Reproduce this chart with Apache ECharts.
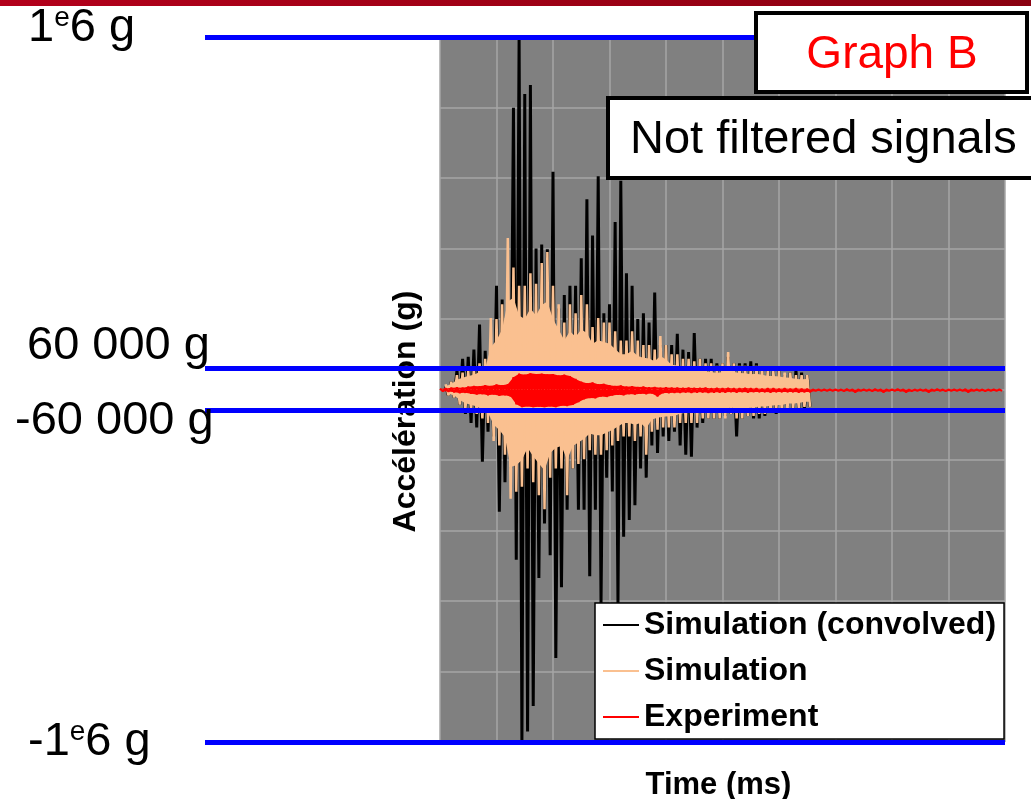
<!DOCTYPE html>
<html>
<head>
<meta charset="utf-8">
<style>
  html, body { margin: 0; padding: 0; background: #fff; }
  #chart { width: 1031px; height: 799px; }
</style>
<script src="https://cdn.jsdelivr.net/npm/echarts@6/dist/echarts.min.js"></script>
</head>
<body>
<div id="chart"></div>
<script>
const FONT = 'Liberation Sans, Arial, sans-serif'

// time axis (ms): 10 divisions, no tick labels on the original
const timeMax = 10
const step = 0.1
const simStart = 0.1   // first slot of the simulated signals
const expStart = 0     // first slot of the experiment

// acceleration in 1000 g, highest / lowest value inside each 0.1 ms slot
const convHigh = [
  9, 22, 54, 87, 93, 113, 184, 110, 113, 294,
  255, 230, 799, 1000, 838, 864, 400, 411, 398, 618,
  230, 268, 294, 294, 372, 540, 437, 605, 216, 242,
  475, 592, 330, 294, 200, 216, 190, 275, 126, 126,
  126, 158, 113, 106, 160, 87, 87, 87, 74, 74,
  93, 74, 74, 74, 80, 74, 54, 54, 54, 54,
  41, 48, 54, 48, 41
]
const convLow = [
  -17, -23, -43, -69, -95, -108, -205, -120, -133, -347,
  -263, -224, -483, -1000, -970, -898, -535, -380, -470, -762,
  -561, -341, -224, -341, -341, -530, -341, -606, -250, -289,
  -606, -418, -370, -328, -224, -250, -159, -180, -133, -146,
  -120, -159, -185, -191, -108, -95, -82, -82, -82, -75,
  -69, -133, -82, -75, -82, -82, -75, -62, -69, -56,
  -49, -56, -56, -56, -49
]
const simHigh = [
  15, 22, 41, 48, 54, 61, 74, 87, 203, 200,
  242, 430, 346, 294, 294, 330, 300, 359, 390, 294,
  242, 190, 242, 216, 268, 242, 177, 203, 190, 190,
  165, 139, 139, 165, 139, 126, 126, 113, 152, 126,
  100, 100, 87, 87, 80, 87, 74, 74, 67, 74,
  106, 74, 67, 67, 61, 67, 61, 54, 54, 54,
  48, 48, 41, 41, 41
]
const simLow = [
  -17, -23, -43, -56, -62, -69, -82, -95, -146, -159,
  -185, -310, -290, -276, -224, -263, -300, -340, -250, -224,
  -224, -300, -224, -211, -198, -172, -185, -185, -172, -159,
  -146, -133, -133, -146, -133, -185, -120, -114, -108, -108,
  -108, -95, -95, -95, -95, -82, -82, -82, -82, -82,
  -69, -82, -82, -75, -75, -69, -69, -66, -62, -62,
  -56, -56, -53, -49, -49
]
// level up to which the simulation trace looks solid in each slot
const simCoreHigh = [
  10, 15, 28, 33, 38, 42, 50, 60, 120, 140,
  170, 250, 260, 210, 200, 230, 210, 240, 250, 200,
  170, 140, 165, 150, 170, 160, 130, 140, 135, 130,
  115, 100, 100, 110, 95, 90, 88, 80, 95, 85,
  70, 68, 62, 60, 56, 58, 52, 50, 47, 50,
  60, 50, 47, 46, 43, 45, 42, 38, 38, 37,
  34, 33, 30, 29, 30
]
const simCoreLow = [
  -12, -16, -30, -39, -43, -48, -57, -66, -100, -115,
  -135, -220, -215, -200, -165, -190, -210, -230, -180, -165,
  -160, -200, -160, -150, -140, -125, -130, -130, -122, -115,
  -105, -95, -95, -100, -95, -110, -85, -80, -77, -76,
  -75, -68, -67, -66, -66, -58, -58, -57, -57, -57,
  -50, -56, -56, -52, -52, -48, -48, -46, -44, -44,
  -40, -40, -38, -35, -35
]
const expHigh = [
  2, 3, 5, 6, 5, 8, 10, 9, 12, 10,
  14, 12, 15, 35, 45, 42, 46, 44, 45, 43,
  44, 40, 42, 38, 30, 22, 18, 20, 15, 16,
  12, 10, 11, 8, 9, 7, 8, 6, 7, 5,
  6, 5, 5, 4, 5, 4, 4, 5, 3, 4,
  3, 4, 3, 3, 4, 3, 3, 2, 3, 3,
  2, 3, 2, 3, 2, 2, 0, 0, 0, 0,
  0, 0, 1, 0, 0, 0, 0, 1, 0, 0,
  0, 1, 0, 0, 0, 0, 0, 0, 1, 0,
  0, 0, 0, 1, 0, 0, 0, 0, 0, 0
]
const expLow = [
  -5, -6, -8, -10, -9, -12, -14, -13, -16, -14,
  -18, -16, -20, -42, -50, -48, -50, -49, -50, -48,
  -50, -46, -47, -44, -36, -28, -24, -25, -20, -21,
  -17, -15, -16, -13, -14, -12, -13, -11, -20, -10,
  -10, -9, -9, -8, -9, -8, -8, -9, -8, -8,
  -8, -7, -8, -7, -8, -7, -7, -7, -8, -7,
  -7, -7, -7, -8, -7, -7, -4, -4, -4, -4,
  -4, -5, -4, -8, -4, -4, -5, -4, -8, -4,
  -4, -4, -8, -5, -4, -4, -8, -4, -4, -5,
  -4, -4, -4, -8, -4, -4, -5, -4, -4, -4
]

// blue reference levels (1000 g) and their labels
const levels = [1000, 60, -60, -1000]
const levelLabels = ['1{e|e}6 g', '60 000 g', '-60 000 g', '-1{e|e}6 g']

const seriesNames = ['Simulation (convolved)', 'Simulation', 'Experiment']
const seriesColors = ['#000000', '#fac090', '#ff0000']
const traceWidths = [3, 2.5, 2]

// high then low inside each slot -> spiky trace
function zigzag (start, high, low) {
  let pts = []
  high.forEach((h, i) => {
    let t = start + i * step
    pts.push([+t.toFixed(3), h])
    pts.push([+(t + step / 2).toFixed(3), low[i]])
  })
  return pts
}

function edge (start, vals, shift) {
  return vals.map((v, i) => [+(start + i * step + shift).toFixed(3), v])
}

// each trace gets its own z so it sits fully on top of the previous one
function signal (idx, data) {
  return {
    name: seriesNames[idx], type: 'line', xAxisIndex: 0, yAxisIndex: 0, z: 2 + idx,
    data: data,
    showSymbol: false, symbol: 'none', color: seriesColors[idx],
    lineStyle: { color: seriesColors[idx], width: traceWidths[idx], join: 'bevel' }
  }
}

// solid body of a trace: filled from zero out to its upper / lower edge
function body (idx, data) {
  return {
    type: 'line', xAxisIndex: 0, yAxisIndex: 0, z: 2 + idx, data: data,
    showSymbol: false, symbol: 'none', silent: true, color: seriesColors[idx],
    lineStyle: { width: 0 },
    areaStyle: { color: seriesColors[idx], opacity: 1, origin: 0 }
  }
}

let chart = echarts.init(document.getElementById('chart'), null, { renderer: 'canvas' })

let labelPos = [
  { x: 28, y: 28 },
  { x: 27, y: 346 },
  { x: 15, y: 421 },
  { x: 28, y: 742 }
]

let graphics = [
  {
    type: 'rect', z: 100, silent: true,
    shape: { x: 0, y: 0, width: 1031, height: 6 },
    style: {
      fill: new echarts.graphic.LinearGradient(0, 0, 1, 0, [
        { offset: 0, color: '#b3001b' },
        { offset: 1, color: '#8a0010' }
      ])
    }
  },
  {
    type: 'rect', z: 100, silent: true,
    shape: { x: 756, y: 13, width: 271, height: 79 },
    style: { fill: '#fff', stroke: '#000', lineWidth: 4 }
  },
  {
    type: 'text', z: 101, silent: true, x: 892, y: 55,
    style: {
      text: 'Graph B', fill: '#ff0000', fontSize: 46, fontFamily: FONT,
      align: 'center', verticalAlign: 'middle'
    }
  },
  {
    type: 'rect', z: 100, silent: true,
    shape: { x: 608, y: 98, width: 440, height: 80 },
    style: { fill: '#fff', stroke: '#000', lineWidth: 4 }
  },
  {
    type: 'text', z: 101, silent: true, x: 630, y: 140,
    style: {
      text: 'Not filtered signals', fill: '#000', fontSize: 47, fontFamily: FONT,
      align: 'left', verticalAlign: 'middle'
    }
  }
]

levelLabels.forEach((txt, i) => {
  graphics.push({
    type: 'text', z: 101, silent: true, x: labelPos[i].x, y: labelPos[i].y,
    style: {
      text: txt, fill: '#000', fontSize: 47, fontFamily: FONT,
      align: 'left', verticalAlign: 'middle', lineHeight: 48,
      rich: {
        e: { fontSize: 28, fontFamily: FONT, fill: '#000', lineHeight: 48, verticalAlign: 'top' }
      }
    }
  })
})

let option = {
  animation: false,
  backgroundColor: '#fff',
  grid: [
    { left: 440, right: 26, top: 37, bottom: 57, show: true, backgroundColor: '#808080', borderWidth: 0, outerBoundsMode: 'none', containLabel: false },
    { left: 205, right: 26, top: 37, bottom: 57, show: false, outerBoundsMode: 'none', containLabel: false }
  ],
  xAxis: [
    {
      gridIndex: 0, type: 'value', min: 0, max: timeMax, interval: 1,
      name: 'Time (ms)', nameLocation: 'middle', nameGap: 28,
      nameTextStyle: { fontFamily: FONT, fontSize: 31, fontWeight: 'bold', color: '#000', padding: [0, 8, 0, 0] },
      axisLine: { show: false }, axisTick: { show: false }, axisLabel: { show: false },
      splitLine: { show: true, lineStyle: { color: '#a6a6a6', width: 1.5 } }
    },
    { gridIndex: 1, type: 'value', min: 0, max: 1, show: false }
  ],
  yAxis: [
    {
      gridIndex: 0, type: 'value', min: -1000, max: 1000, interval: 200,
      name: 'Accélération (g)', nameLocation: 'middle', nameRotate: 90, nameGap: 18,
      nameTextStyle: { fontFamily: FONT, fontSize: 32, fontWeight: 'bold', color: '#000', padding: [0, 44, 0, 0] },
      axisLine: { show: false }, axisTick: { show: false }, axisLabel: { show: false },
      splitLine: { show: true, lineStyle: { color: '#a6a6a6', width: 1.5 } }
    },
    { gridIndex: 1, type: 'value', min: -1000, max: 1000, show: false }
  ],
  legend: {
    data: seriesNames,
    orient: 'vertical', left: 595, top: 603, z: 8,
    padding: [4, 8, 4, 8], itemGap: 10,
    itemWidth: 36, itemHeight: 2, icon: 'rect',
    backgroundColor: '#fff', borderColor: '#000', borderWidth: 1.5, borderRadius: 0,
    selectedMode: false,
    textStyle: { fontFamily: FONT, fontSize: 32, fontWeight: 'bold', color: '#000', lineHeight: 36 }
  },
  graphic: graphics,
  series: [
    signal(0, zigzag(simStart, convHigh, convLow)),
    body(1, edge(simStart, simCoreHigh, 0)),
    body(1, edge(simStart, simCoreLow, step / 2)),
    signal(1, zigzag(simStart, simHigh, simLow)),
    body(2, edge(expStart, expHigh, 0)),
    body(2, edge(expStart, expLow, step / 2)),
    signal(2, zigzag(expStart, expHigh, expLow)),
    {
      type: 'line', xAxisIndex: 1, yAxisIndex: 1, data: [], z: 9,
      markLine: {
        silent: true, symbol: ['none', 'none'], animation: false, z: 9,
        label: { show: false },
        lineStyle: { color: '#0000ff', width: 5, type: 'solid' },
        data: levels.map(v => ({ yAxis: v }))
      }
    }
  ]
}

chart.setOption(option)
</script>
</body>
</html>
